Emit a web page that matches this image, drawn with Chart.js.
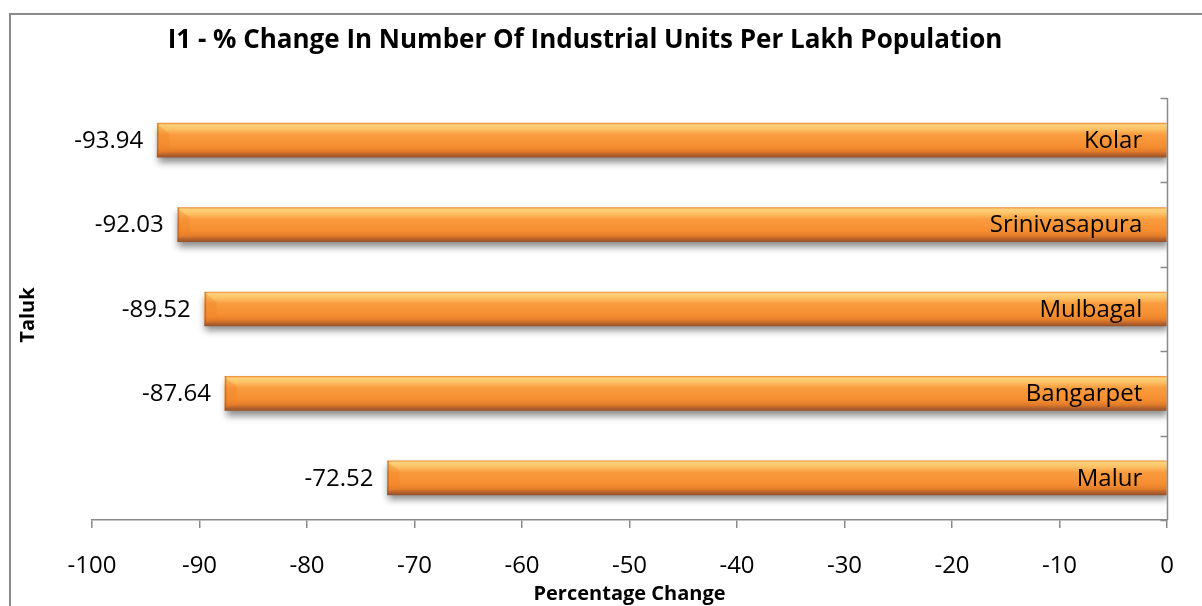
<!DOCTYPE html>
<html>
<head>
<meta charset="utf-8">
<script src="https://cdn.jsdelivr.net/npm/chart.js@4.4.1/dist/chart.umd.min.js"></script>
<style>
  html, body { margin: 0; padding: 0; background: #fff; }
  #wrap { width: 1202px; height: 606px; position: relative; }
</style>
</head>
<body>
<div id="wrap"><canvas id="chartTaluk"></canvas></div>
<script>
// Data (top to bottom)
const taluks = ['Kolar', 'Srinivasapura', 'Mulbagal', 'Bangarpet', 'Malur'];
const changeValues = [-93.94, -92.03, -89.52, -87.64, -72.52];
const xTickMin = -100;
const xTickMax = 0;
const xTickStep = 10;

const chartTitle = 'I1 - % Change In Number Of Industrial Units Per Lakh Population';
const FONT = '"Open Sans", "Noto Sans", sans-serif';

/* Vertical gradient for each bar, a bit like the office 3D bevel */
function barGradient(context) {
    const chart = context.chart;
    const yScale = chart.scales.y;
    if (!yScale || context.dataIndex === undefined) return '#f79646';
    const y = yScale.getPixelForValue(context.dataIndex);
    if (!isFinite(y)) return '#f79646';
    const half = 17;
    const g = chart.ctx.createLinearGradient(0, y - half, 0, y + half);
    g.addColorStop(0, '#f0953a');
    g.addColorStop(0.05, '#fdd27c');
    g.addColorStop(0.16, '#fcc468');
    g.addColorStop(0.34, '#f99c3e');
    g.addColorStop(0.7, '#f58d30');
    g.addColorStop(0.84, '#e07a2a');
    g.addColorStop(0.92, '#b8642b');
    g.addColorStop(1, '#98542a');
    return g;
}

const frame = {
    id: 'frame',
    beforeDraw: (chart) => {
        const ctx = chart.ctx;
        ctx.save();
        ctx.fillStyle = '#fff';
        ctx.fillRect(0, 0, chart.width, chart.height);
        ctx.strokeStyle = '#8a8a8a';
        ctx.lineWidth = 2;
        ctx.strokeRect(10, 14, chart.width + 10, chart.height + 10);

        // title
        ctx.fillStyle = '#000';
        ctx.font = 'bold 26px ' + FONT;
        ctx.textAlign = 'center';
        ctx.textBaseline = 'alphabetic';
        ctx.fillText(chartTitle, 585, 48);

        // y axis title
        const area = chart.chartArea;
        ctx.translate(28, (area.top + area.bottom) / 2 + 6);
        ctx.rotate(-Math.PI / 2);
        ctx.font = 'bold 20px ' + FONT;
        ctx.textBaseline = 'middle';
        ctx.fillText('Taluk', 0, 0);
        ctx.restore();
    }
};

const barShadow = {
    id: 'barShadow',
    beforeDatasetDraw: (chart) => {
        const ctx = chart.ctx;
        ctx.save();
        ctx.shadowColor = 'rgba(0, 0, 0, 0.45)';
        ctx.shadowBlur = 7;
        ctx.shadowOffsetX = 1;
        ctx.shadowOffsetY = 5;
    },
    afterDatasetDraw: (chart) => {
        chart.ctx.restore();
    }
};

const labelsAndAxis = {
    id: 'labelsAndAxis',
    afterDatasetsDraw: (chart) => {
        const ctx = chart.ctx;
        const xScale = chart.scales.x;
        const yScale = chart.scales.y;
        const area = chart.chartArea;
        const meta = chart.getDatasetMeta(0);

        ctx.save();
        // left bevel facet on each bar
        meta.data.forEach((bar) => {
            const top = bar.y - bar.height / 2;
            const bot = bar.y + bar.height / 2;
            ctx.fillStyle = 'rgba(240, 130, 40, 0.35)';
            ctx.beginPath();
            ctx.moveTo(bar.x, top + 1);
            ctx.lineTo(bar.x + 12, top + 10);
            ctx.lineTo(bar.x + 12, bot - 8);
            ctx.lineTo(bar.x, bot - 2);
            ctx.closePath();
            ctx.fill();
            ctx.fillStyle = 'rgba(150, 80, 30, 0.45)';
            ctx.fillRect(bar.x, top, 1.5, bar.height);
        });

        ctx.fillStyle = '#000';
        ctx.font = '24px ' + FONT;
        ctx.textBaseline = 'middle';
        ctx.textAlign = 'right';
        meta.data.forEach((bar, i) => {
            ctx.fillText(changeValues[i].toFixed(2), bar.x - 14, bar.y + 1);
            ctx.fillText(taluks[i], bar.base - 24, bar.y + 1);
        });

        // y axis line at zero, tick marks pointing inward
        const x0 = Math.round(xScale.getPixelForValue(0)) + 0.5;
        ctx.strokeStyle = '#8a8a8a';
        ctx.lineWidth = 1.5;
        ctx.beginPath();
        ctx.moveTo(x0, area.top);
        ctx.lineTo(x0, area.bottom);
        const band = yScale.getPixelForValue(1) - yScale.getPixelForValue(0);
        for (let i = 0; i <= taluks.length; i++) {
            const yb = Math.round(yScale.getPixelForValue(0) - band / 2 + i * band) + 0.5;
            ctx.moveTo(x0 - 7, yb);
            ctx.lineTo(x0, yb);
        }
        ctx.stroke();
        ctx.restore();
    }
};

const dataTaluk = {
    labels: taluks,
    datasets: [{
        label: 'Percentage Change',
        data: changeValues,
        backgroundColor: barGradient,
        borderWidth: 0,
        barThickness: 34
    }]
};

const configTaluk = {
    type: 'bar',
    data: dataTaluk,
    options: {
        indexAxis: 'y',
        responsive: true,
        maintainAspectRatio: false,
        animation: false,
        layout: {
            padding: { left: 92, right: 35, top: 98, bottom: 0 }
        },
        plugins: {
            legend: { display: false },
            tooltip: { enabled: false },
            title: { display: false }
        },
        scales: {
            x: {
                min: xTickMin,
                max: xTickMax,
                ticks: {
                    stepSize: xTickStep,
                    color: '#000',
                    padding: 24,
                    font: { family: FONT, size: 24 }
                },
                grid: {
                    drawOnChartArea: false,
                    drawTicks: true,
                    tickLength: 8,
                    color: '#8a8a8a',
                    lineWidth: 1.5
                },
                border: { color: '#8a8a8a', width: 1.5 },
                title: {
                    display: true,
                    text: 'Percentage Change',
                    color: '#000',
                    padding: { top: 0, bottom: 0 },
                    font: { family: FONT, size: 20, weight: 'bold' }
                },
                afterFit: (scale) => { scale.height = 86; }
            },
            y: {
                display: false
            }
        }
    },
    plugins: [frame, barShadow, labelsAndAxis]
};

let chartTaluk = null;
renderChartTaluk();
function renderChartTaluk() {
    chartTaluk = new Chart(
        document.getElementById('chartTaluk'),
        configTaluk
    );
}
</script>
</body>
</html>
